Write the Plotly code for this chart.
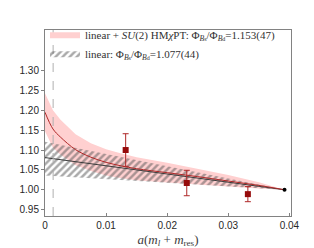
import plotly.graph_objects as go

# ---- data ----
x_fit = [0.0, 0.0013, 0.0025, 0.005, 0.0075, 0.01, 0.0125, 0.015, 0.02, 0.025, 0.03, 0.035, 0.0392]
red_central = [1.195, 1.153, 1.133, 1.101, 1.082, 1.069, 1.060, 1.053, 1.043, 1.033, 1.022, 1.011, 1.000]
red_upper = [1.243, 1.200, 1.177, 1.140, 1.117, 1.102, 1.091, 1.082, 1.068, 1.053, 1.037, 1.019, 1.000]
red_lower = [1.147, 1.106, 1.089, 1.062, 1.047, 1.036, 1.029, 1.024, 1.018, 1.013, 1.007, 1.003, 1.000]

x_lin = [0.0, 0.0392]
lin_central = [1.081, 1.000]
lin_upper = [1.121, 1.000]
lin_lower = [1.036, 1.000]

x_data = [0.0132, 0.0232, 0.0332]
y_data = [1.100, 1.017, 0.989]
y_err = [0.041, 0.032, 0.019]

x_ref = [0.0392]
y_ref = [1.000]

x_phys = 0.00133

x_ticks = [0, 0.01, 0.02, 0.03, 0.04]
x_ticklabels = ["0", "0.01", "0.02", "0.03", "0.04"]
y_ticks = [0.95, 1.00, 1.05, 1.10, 1.15, 1.20, 1.25, 1.30]
y_ticklabels = ["0.95", "1.00", "1.05", "1.10", "1.15", "1.20", "1.25", "1.30"]

SS = '<span style="font-size:6px">%s</span>'
phi_s = "Φ<sub><i>B</i>" + SS % "s" + "</sub>"
phi_d = "Φ<sub><i>B</i>" + SS % "d" + "</sub>"
name_su2 = "linear + <i>SU</i>(2) HM<i>χ</i>PT: " + phi_s + "/" + phi_d + "=1.153(47)"
name_lin = "linear: " + phi_s + "/" + phi_d + "=1.077(44)"

PINK = "rgb(255,208,208)"
DARKRED = "rgb(150,10,10)"
LINERED = "rgb(175,40,40)"
GREY = "rgb(130,130,130)"

fig = go.Figure()

# pink band
fig.add_trace(go.Scatter(x=x_fit, y=red_lower, mode="lines", line=dict(width=0),
                         showlegend=False, hoverinfo="skip"))
fig.add_trace(go.Scatter(x=x_fit, y=red_upper, mode="lines", line=dict(width=0),
                         fill="tonexty", fillcolor=PINK, name=name_su2))
# hatched band
fig.add_trace(go.Scatter(x=x_lin, y=lin_lower, mode="lines", line=dict(width=0),
                         showlegend=False, hoverinfo="skip"))
fig.add_trace(go.Scatter(x=x_lin, y=lin_upper, mode="lines", line=dict(width=0),
                         fill="tonexty", fillcolor="rgba(0,0,0,0)",
                         fillpattern=dict(shape="/", fgcolor="rgb(85,85,85)",
                                          bgcolor="rgba(0,0,0,0)", size=5, solidity=0.5),
                         name=name_lin))
# central lines
fig.add_trace(go.Scatter(x=x_lin, y=lin_central, mode="lines",
                         line=dict(color="rgb(60,60,60)", width=1), showlegend=False))
fig.add_trace(go.Scatter(x=x_fit, y=red_central, mode="lines", line_shape="spline",
                         line=dict(color=LINERED, width=1), showlegend=False))
# data
fig.add_trace(go.Scatter(x=x_data, y=y_data, mode="markers",
                         marker=dict(symbol="square", size=6, color=DARKRED),
                         error_y=dict(type="data", array=y_err, color=LINERED,
                                      thickness=1, width=3),
                         showlegend=False))
fig.add_trace(go.Scatter(x=x_ref, y=y_ref, mode="markers",
                         marker=dict(size=4, color="black"), showlegend=False))

fig.add_vline(x=x_phys, line=dict(color="rgb(175,175,175)", width=1, dash="dash"))

fig.update_layout(
    width=314, height=248,
    margin=dict(l=31, r=31, t=18, b=31),
    paper_bgcolor="white", plot_bgcolor="white",
    showlegend=True,
    legend=dict(x=0.0, y=1.055, xanchor="left", yanchor="top", traceorder="normal",
                bgcolor="rgba(0,0,0,0)", borderwidth=0,
                font=dict(family="Liberation Serif", size=11, color="rgb(50,50,50)"),
                itemwidth=30, tracegroupgap=0),
    xaxis=dict(range=[0, 0.04026], tickvals=x_ticks, ticktext=x_ticklabels,
               showgrid=False, zeroline=False, showline=True, linecolor=GREY,
               linewidth=1, mirror=True, ticks="inside", ticklen=3, tickcolor=GREY,
               tickfont=dict(family="Liberation Sans", size=10, color="rgb(40,40,40)"),
               title=dict(text="<i>a</i>(<i>m<sub>l</sub></i> + <i>m</i><sub>res</sub>)",
                          font=dict(family="Liberation Serif", size=13, color="rgb(60,60,60)"),
                          standoff=4)),
    yaxis=dict(range=[0.934, 1.402], tickvals=y_ticks, ticktext=y_ticklabels,
               showgrid=False, zeroline=False, showline=True, linecolor=GREY,
               linewidth=1, mirror=True, ticks="outside", ticklen=3, tickcolor=GREY,
               tickfont=dict(family="Liberation Sans", size=10, color="rgb(40,40,40)")),
    yaxis2=dict(range=[0.934, 1.402], tickvals=y_ticks, overlaying="y", side="right",
                anchor="x", showticklabels=False, showgrid=False, zeroline=False,
                showline=False, ticks="inside", ticklen=3, tickcolor=GREY),
)

fig.write_html("out.html")
